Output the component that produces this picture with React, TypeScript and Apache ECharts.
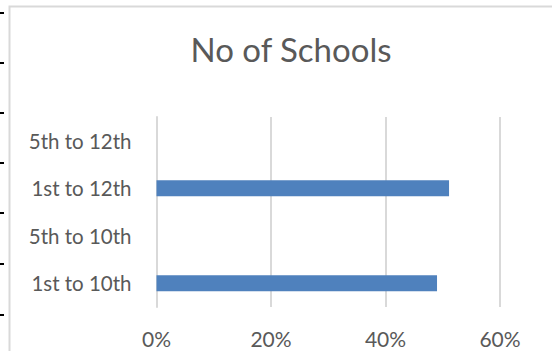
import React, { useEffect, useRef } from "react";
import * as echarts from "echarts";

const title = "No of Schools";
const categories = ["1st to 10th", "5th to 10th", "1st to 12th", "5th to 12th"];
const shares = [0.49, 0, 0.511, 0];
const xTicks = [0, 0.2, 0.4, 0.6];
const rowMarkers = [13, 63, 113, 163, 213, 264, 315];

export default function App() {
  const ref = useRef<HTMLDivElement>(null);
  useEffect(() => {
    if (!ref.current) return;
    const chart = echarts.init(ref.current, null, { renderer: "svg" });
    const font = "Lato, 'Open Sans', sans-serif";
    chart.setOption({
      animation: false,
      backgroundColor: "#ffffff",
      title: {
        text: title,
        left: 286,
        top: 27,
        textAlign: "center",
        textStyle: { fontFamily: font, fontSize: 33, fontWeight: "normal", color: "#595959" },
      },
      grid: { left: 156.5, right: 52, top: 117, bottom: 44, containLabel: false },
      xAxis: {
        type: "value",
        min: xTicks[0],
        max: xTicks[xTicks.length - 1],
        interval: 0.2,
        axisLine: { show: false },
        axisTick: { show: false },
        splitLine: { show: true, lineStyle: { color: "#d9d9d9", width: 2 } },
        axisLabel: {
          margin: 21,
          fontFamily: font,
          fontSize: 21,
          color: "#595959",
          formatter: (v: number) => Math.round(v * 100) + "%",
        },
      },
      yAxis: {
        type: "category",
        data: categories,
        axisLine: { show: true, lineStyle: { color: "#d9d9d9", width: 2 } },
        axisTick: { show: false },
        axisLabel: { margin: 25, fontFamily: font, fontSize: 20.5, color: "#595959" },
      },
      series: [
        {
          type: "bar",
          data: shares,
          barWidth: 16,
          itemStyle: { color: "#4f81bd" },
        },
      ],
      graphic: [
        {
          type: "rect",
          shape: { x: 9.5, y: 6.5, width: 700, height: 500 },
          style: { fill: "none", stroke: "#d9d9d9", lineWidth: 2 },
          silent: true,
        },
        ...rowMarkers.map((y) => ({
          type: "line",
          shape: { x1: 0, y1: y, x2: 4, y2: y },
          style: { stroke: "#000000", lineWidth: 2 },
          silent: true,
        })),
      ],
    });
    return () => chart.dispose();
  }, []);
  return (
    <div
      ref={ref}
      style={{ position: "fixed", left: 0, top: 0, width: 552, height: 351 }}
    />
  );
}
